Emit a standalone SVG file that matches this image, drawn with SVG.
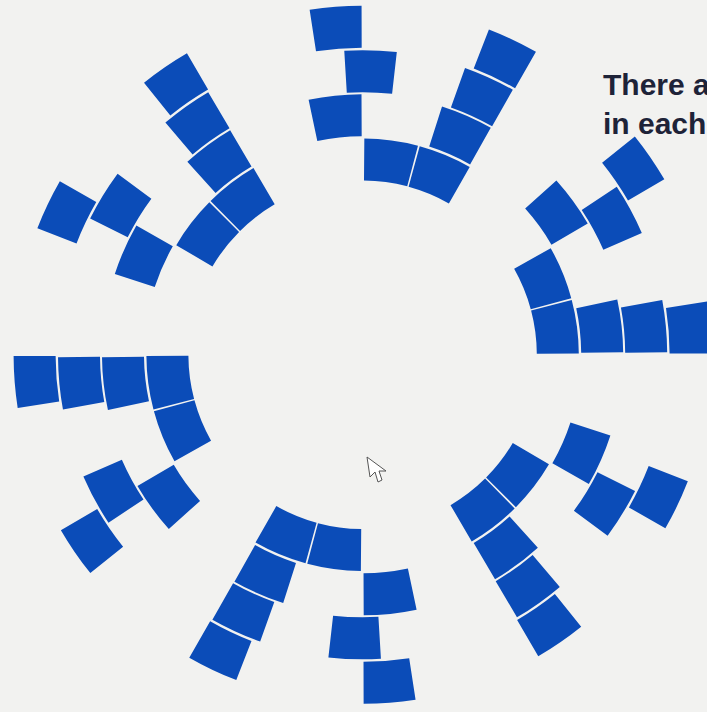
<svg xmlns="http://www.w3.org/2000/svg" xmlns:xlink="http://www.w3.org/1999/xlink" width="707" height="712" viewBox="0 0 707 712">
<style>
.cell{fill:#0b4cb8}
.txt{font-family:"Liberation Sans",Arial,sans-serif;font-weight:bold;font-size:30px;fill:#1e2338}
</style>
<defs>
<path id="r1" class="cell" d="M-27.06,-19.3 A216.2,216.2 0 0 1 27.06,-19.3 L21.81,22.37 A174.2,174.2 0 0 0 -21.81,22.37 Z"/>
<path id="r2" class="cell" d="M-26.6,-19.64 A260.6,260.6 0 0 1 26.6,-19.64 L22.31,22.14 A218.6,218.6 0 0 0 -22.31,22.14 Z"/>
<path id="r3" class="cell" d="M-26.28,-19.86 A304.6,304.6 0 0 1 26.28,-19.86 L22.66,21.98 A262.6,262.6 0 0 0 -22.66,21.98 Z"/>
<path id="r4" class="cell" d="M-26.05,-20.03 A349,349 0 0 1 26.05,-20.03 L22.91,21.86 A307,307 0 0 0 -22.91,21.86 Z"/>
<g id="motif">
<use href="#r4" transform="rotate(-4.45) translate(0,-328)"/>
<use href="#r3" transform="rotate(1.5) translate(0,-283.6)"/>
<use href="#r2" transform="rotate(-6.1) translate(0,-239.6)"/>
<use href="#r1" transform="rotate(7.65) translate(0,-195.2)"/>
<use href="#r1" transform="rotate(22.5) translate(0,-195.2)"/>
<use href="#r2" transform="rotate(23.6) translate(0,-239.6)"/>
<use href="#r3" transform="rotate(24.6) translate(0,-283.6)"/>
<use href="#r4" transform="rotate(25.5) translate(0,-328)"/>
</g>
</defs>
<rect width="707" height="712" fill="#f2f2f0"/>
<g id="group-top"><use href="#motif" transform="translate(362.6,354.75) rotate(0)"/></g>
<g id="group-right"><use href="#motif" transform="translate(362.6,354.75) rotate(60)"/></g>
<g id="group-lower-right"><use href="#motif" transform="translate(362.6,354.75) rotate(120)"/></g>
<g id="group-bottom"><use href="#motif" transform="translate(362.6,354.75) rotate(180)"/></g>
<g id="group-left"><use href="#motif" transform="translate(362.6,354.75) rotate(240)"/></g>
<g id="group-upper-left"><use href="#motif" transform="translate(362.6,354.75) rotate(300)"/></g>
<g id="caption">
<text class="txt" x="603" y="95">There a</text>
<text class="txt" x="603" y="134">in each</text>
</g>
<path id="cursor" d="M367,457 L370,477 L375,472 L378,482 L382,480 L379,471 L386,471 Z" fill="#ffffff" stroke="#555" stroke-width="1" stroke-linejoin="round"/>
</svg>
